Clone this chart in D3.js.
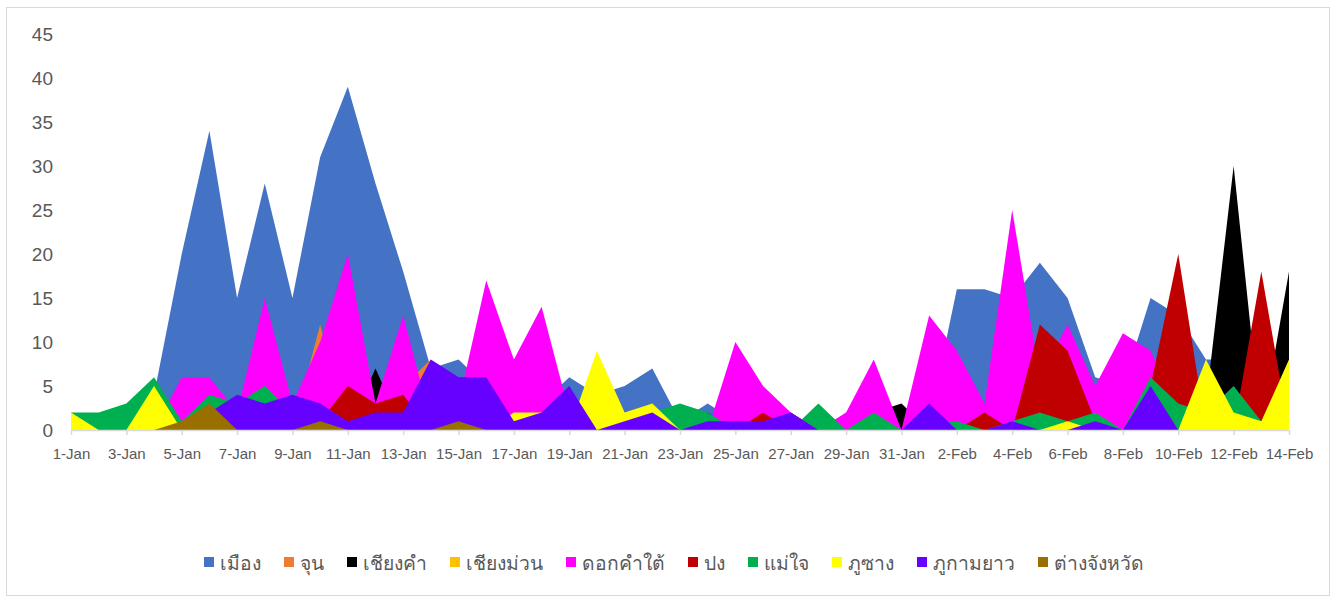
<!DOCTYPE html>
<html><head><meta charset="utf-8">
<script src="https://cdn.jsdelivr.net/npm/d3@7/dist/d3.min.js"></script>
<style>
body{margin:0;background:#fff;}
svg text{font-family:"Liberation Sans","Noto Sans",sans-serif;fill:#595959;}
</style></head><body>
<svg id="c" width="1337" height="597"></svg>
<script>
const dates = ["1-Jan","2-Jan","3-Jan","4-Jan","5-Jan","6-Jan","7-Jan","8-Jan","9-Jan","10-Jan","11-Jan","12-Jan","13-Jan","14-Jan","15-Jan","16-Jan","17-Jan","18-Jan","19-Jan","20-Jan","21-Jan","22-Jan","23-Jan","24-Jan","25-Jan","26-Jan","27-Jan","28-Jan","29-Jan","30-Jan","31-Jan","1-Feb","2-Feb","3-Feb","4-Feb","5-Feb","6-Feb","7-Feb","8-Feb","9-Feb","10-Feb","11-Feb","12-Feb","13-Feb","14-Feb"];
const seriesNames = ["เมือง","จุน","เชียงคำ","เชียงม่วน","ดอกคำใต้","ปง","แม่ใจ","ภูซาง","ภูกามยาว","ต่างจังหวัด"];
const seriesColors = ["#4472C4","#ED7D31","#000000","#FFC000","#FF00FF","#C00000","#00B050","#FFFF00","#6600FF","#997000"];
const mueang     = [0,0,0,4,20,34,15,28,15,31,39,28,18,7,8,5,4,3,6,4,5,7,1,3,1,1,1,0,0,0,0,1,16,16,15,19,15,6,5,15,13,8,8,3,5];
const chun       = [0,0,0,0,0,0,0,0,0,12,0,0,5,8,0,0,0,0,0,0,0,0,0,0,0,0,0,0,0,0,0,0,0,0,0,0,0,0,0,0,0,0,0,0,0];
const chiangkham = [0,0,0,0,0,0,0,0,0,0,0,7,0,0,0,0,0,0,0,0,0,0,0,2,0,0,2,0,0,2,3,0,0,0,0,0,0,0,0,0,0,3,30,0,18];
const chiangmuan = [0,0,0,0,0,0,0,0,0,0,0,0,0,0,0,0,0,0,0,0,0,0,0,0,0,0,0,0,0,0,0,0,0,0,0,0,0,0,0,0,0,0,0,0,0];
const dokkhamtai = [0,0,0,0,6,6,2,15,3,10,20,3,13,1,3,17,8,14,2,0,0,0,0,0,10,5,2,0,2,8,0,13,9,3,25,6,12,5,11,9,2,0,0,0,0];
const pong       = [0,0,0,0,0,0,0,0,0,1,5,3,4,0,0,0,0,0,0,0,0,0,0,0,0,2,0,0,0,0,0,0,0,2,0,12,9,1,0,5,20,0,0,18,0];
const maechai    = [2,2,3,6,1,4,3,5,2,1,0,0,0,0,0,0,0,0,0,0,0,2,3,2,0,0,0,3,0,2,0,1,1,0,1,2,1,2,0,6,3,2,5,1,0];
const phusang    = [2,0,0,5,0,0,0,0,0,0,0,0,0,0,0,0,2,2,0,9,2,3,0,0,0,0,0,0,0,0,0,0,0,0,0,0,1,0,0,0,0,8,2,1,8];
const phukamyao  = [0,0,0,0,0,2,4,3,4,3,1,2,2,8,6,6,1,2,5,0,1,2,0,1,1,1,2,0,0,0,0,3,0,0,1,0,0,1,0,5,0,0,0,0,0];
const tangchangwat=[0,0,0,0,1,3,0,0,0,1,0,0,0,0,1,0,0,0,0,0,0,0,0,0,0,0,0,0,0,0,0,0,0,0,0,0,0,0,0,0,0,0,0,0,0];
const yTicks = [0,5,10,15,20,25,30,35,40,45];

const allSeries = [mueang,chun,chiangkham,chiangmuan,dokkhamtai,pong,maechai,phusang,phukamyao,tangchangwat];

const svg = d3.select("#c");
svg.append("rect").attr("x",6.5).attr("y",7.5).attr("width",1323).attr("height",588)
  .attr("fill","#fff").attr("stroke","#d9d9d9").attr("stroke-width",1);

const x = d3.scaleLinear().domain([0,dates.length-1]).range([71,1289]);
const y = d3.scaleLinear().domain([0,45]).range([430,34]);

const area = d3.area().x((d,i)=>x(i)).y0(y(0)).y1(d=>y(d));
const g = svg.append("g");
allSeries.forEach((s,k)=>{
  g.append("path").datum(s).attr("d",area).attr("fill",seriesColors[k]);
});

// x axis
const xAxis = d3.axisBottom(x)
  .tickValues(d3.range(0,dates.length,2))
  .tickFormat(i=>dates[i]).tickSizeInner(5).tickSizeOuter(0).tickPadding(13);
const xg = svg.append("g").attr("transform",`translate(0,${y(0)})`).call(xAxis);
xg.select(".domain").attr("stroke","#d9d9d9").attr("stroke-width",1.5);
xg.selectAll(".tick line").attr("stroke","#d9d9d9").attr("stroke-width",1.5);
xg.selectAll("text").attr("font-size",15).attr("fill","#595959").style("font-family","Liberation Sans Narrow, Liberation Sans, sans-serif");

// y axis
const yAxis = d3.axisLeft(y).tickValues(yTicks).tickSize(0).tickPadding(0);
const yg = svg.append("g").attr("transform","translate(53,0)").call(yAxis);
yg.select(".domain").remove();
yg.selectAll("text").attr("font-size",19).attr("fill","#595959").style("font-family","Liberation Sans Narrow, Liberation Sans, sans-serif");

// legend
const lg = svg.append("g").attr("transform","translate(0,563)");
const items = lg.selectAll("g").data(seriesNames).join("g");
items.append("rect").attr("width",10).attr("height",10).attr("y",-6).attr("fill",(d,i)=>seriesColors[i]);
items.append("text").attr("x",16).attr("dy","0.35em").attr("font-size",19.3).attr("fill","#595959").text(d=>d);
const widths=[];
items.each(function(){ const w = 16 + this.querySelector("text").getComputedTextLength(); widths.push(w); });
const gap = 23;
const total = d3.sum(widths) + gap*(widths.length-1);
let start = 674 - total/2;
items.attr("transform",(d,i)=>{ const t=`translate(${start},0)`; start += widths[i]+gap; return t; });
</script>
</body></html>
